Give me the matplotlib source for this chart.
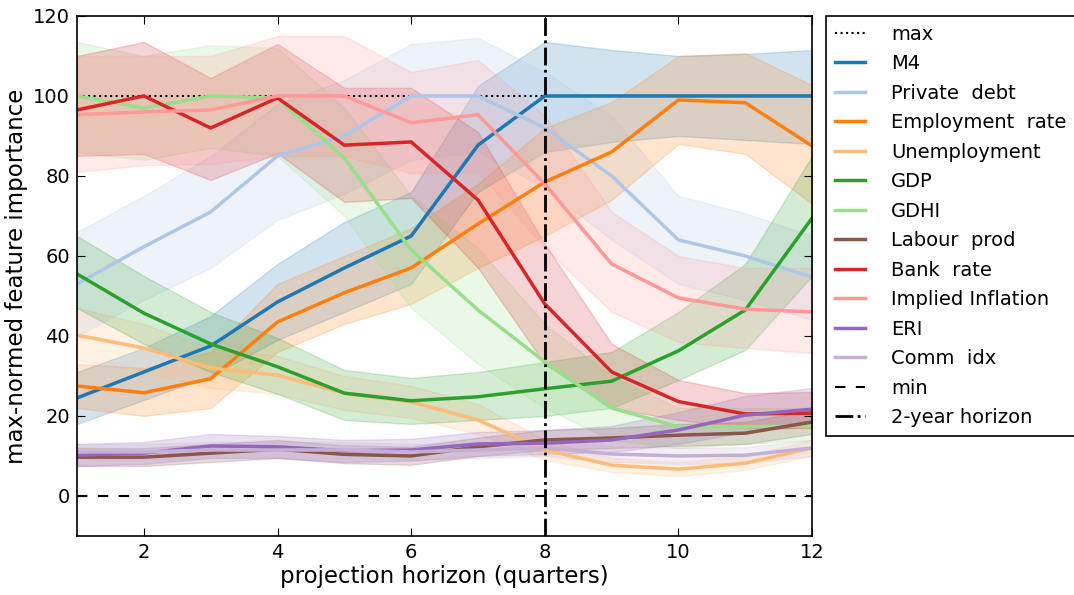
import matplotlib
matplotlib.use("Agg")
import matplotlib.pyplot as plt
import numpy as np

x = list(range(1, 13))

names = ["M4", "Private  debt", "Employment  rate", "Unemployment", "GDP", "GDHI",
         "Labour  prod", "Bank  rate", "Implied Inflation", "ERI", "Comm  idx"]
colors = ["#1f77b4", "#aec7e8", "#ff7f0e", "#ffbb78", "#2ca02c", "#98df8a",
          "#8c564b", "#d62728", "#ff9896", "#9467bd", "#c5b0d5"]

m4 = [24.5, 31, 37.5, 48.5, 57, 65, 87.7, 100, 100, 100, 100, 100]
m4_lo = [18, 24, 30, 39, 46, 53, 76, 86, 88.5, 90, 89, 88]
m4_hi = [31, 37, 45, 58, 68.5, 76, 102.5, 113.5, 111.5, 110, 110.5, 111.5]

pdebt = [53, 62.3, 71, 85, 90, 100, 100, 92, 80, 64, 60, 54.7]
pdebt_lo = [40, 49, 57, 69, 75.5, 84, 86, 77, 64, 53, 49, 44]
pdebt_hi = [66, 75, 85, 98, 104, 113, 114.5, 106, 95, 75, 70.7, 65]

emp = [27.5, 25.8, 29.3, 43.5, 50.8, 57, 68, 78.5, 86, 99, 98.3, 87.5]
emp_lo = [22, 20, 22, 36, 43, 48, 57, 65, 74, 88, 85.5, 73]
emp_hi = [33, 32, 36, 53, 60, 67, 78, 92, 98.5, 110, 110.7, 102.7]

unemp = [40.2, 37, 32, 30.2, 25.7, 23.5, 19, 11.5, 7.7, 6.7, 8.2, 12]
unemp_lo = [34, 31, 27, 25.5, 21.5, 19.5, 15.5, 9, 6, 5, 6.5, 10]
unemp_hi = [47, 43, 37, 35, 30, 27.5, 23, 14, 9.5, 8.5, 10, 14]

gdp = [55.5, 45.7, 38, 32.3, 25.7, 23.8, 24.8, 26.8, 28.7, 36.3, 46.5, 69.5]
gdp_lo = [47, 38, 31, 25.5, 19, 18, 19, 20, 22, 29, 36.5, 55]
gdp_hi = [65, 55, 46, 39.5, 31.5, 29.5, 31, 33.5, 36, 46, 58, 85]

gdhi = [100, 97, 100, 99.5, 84.5, 61.5, 46.5, 33.5, 22, 17.3, 17.3, 17.5]
gdhi_lo = [86, 84, 87, 85, 70, 47, 33, 22, 14, 12, 13, 14]
gdhi_hi = [113.5, 110, 112.7, 112, 97, 75, 62, 43, 30, 22, 22, 22]

lprod = [9.7, 9.7, 10.7, 11.7, 10.4, 10, 12.3, 14, 14.5, 15.2, 15.7, 18.5]
lprod_lo = [7.5, 7.5, 8.5, 9.5, 8.2, 7.8, 10, 11.5, 12, 12.5, 13, 15.5]
lprod_hi = [12, 12, 13, 14, 12.7, 12.3, 14.6, 16.5, 17, 18, 18.5, 21.5]

bank = [96.5, 100, 92, 99.5, 87.7, 88.5, 74, 48, 31, 23.6, 20.5, 20.7]
bank_lo = [85, 85.5, 79, 85.7, 73.5, 74.5, 57, 33, 22, 19, 17, 17]
bank_hi = [110, 113.5, 104.5, 113, 102, 102, 91, 63, 38, 29, 25.7, 26]

infl = [95.3, 96, 96.5, 100, 100, 93.3, 95.3, 78, 58, 49.5, 46.7, 46]
infl_lo = [81, 82.7, 83, 85, 85, 80.7, 81, 62, 46, 38.5, 37, 35.7]
infl_hi = [110, 110, 110, 115, 115, 106, 109, 95, 71, 60, 57, 57]

eri = [10.2, 10.7, 12.5, 12.3, 11.3, 11.5, 13, 13.2, 14, 16.5, 20.2, 21.7]
eri_lo = [7.5, 8, 9.5, 9.5, 8.5, 8.8, 10, 10.5, 11, 13, 16, 17.5]
eri_hi = [13, 13.5, 15.5, 15, 14, 14.3, 16, 16.5, 17.5, 21, 25, 27]

comm = [11, 11, 11.5, 11.5, 11.5, 11, 11.5, 12, 10.5, 10, 10.2, 12]
comm_lo = [9, 9, 9.5, 9.5, 9.5, 9, 9.5, 10, 8.5, 8, 8.2, 10]
comm_hi = [13, 13, 13.5, 13.5, 13.5, 13, 13.5, 14, 12.5, 12, 12.2, 14]

series = [(m4, m4_lo, m4_hi), (pdebt, pdebt_lo, pdebt_hi), (emp, emp_lo, emp_hi),
          (unemp, unemp_lo, unemp_hi), (gdp, gdp_lo, gdp_hi), (gdhi, gdhi_lo, gdhi_hi),
          (lprod, lprod_lo, lprod_hi), (bank, bank_lo, bank_hi), (infl, infl_lo, infl_hi),
          (eri, eri_lo, eri_hi), (comm, comm_lo, comm_hi)]

plt.rcParams['font.family'] = ['DejaVu Sans']
fig = plt.figure(figsize=(10.74, 5.95), dpi=100, facecolor="white")
ax = fig.add_axes([0.0717, 0.0992, 0.6845, 0.874])

h_max, = ax.plot([1, 12], [100, 100], color="black", ls=":", lw=1.5, label="max")
handles = [h_max]
for (v, lo, hi), name, c in zip(series, names, colors):
    ax.fill_between(x, lo, hi, color=c, alpha=0.2, lw=1)
    h, = ax.plot(x, v, color=c, lw=2.5, label=name)
    handles.append(h)
h_min, = ax.plot([1, 12], [0, 0], color="black", ls="--", lw=1.5, dashes=(5, 5), label="min")
h_hor = ax.axvline(8, color="black", ls="-.", lw=2, label="2-year horizon")
handles += [h_min, h_hor]

ax.set_xlim(1, 12)
ax.set_ylim(-10, 120)
ax.set_xticks([2, 4, 6, 8, 10, 12])
ax.set_yticks([0, 20, 40, 60, 80, 100, 120])
ax.tick_params(direction="in", top=True, right=True, labelsize=14, length=6, pad=5)
for s in ax.spines.values():
    s.set_linewidth(1.2)
ax.set_xlabel("projection horizon (quarters)", fontsize=16.5, labelpad=2)
ax.set_ylabel("max-normed feature importance", fontsize=16.5, labelpad=4)

leg = ax.legend(handles=handles, loc="upper left", bbox_to_anchor=(1.019, 1.0),
                fontsize=14, handlelength=1.55, handletextpad=1.35, labelspacing=0.54,
                borderpad=0.45, fancybox=False, framealpha=1, edgecolor="black",
                borderaxespad=0)
leg.get_frame().set_linewidth(1.2)

fig.savefig("out.png", dpi=100, facecolor="white")
